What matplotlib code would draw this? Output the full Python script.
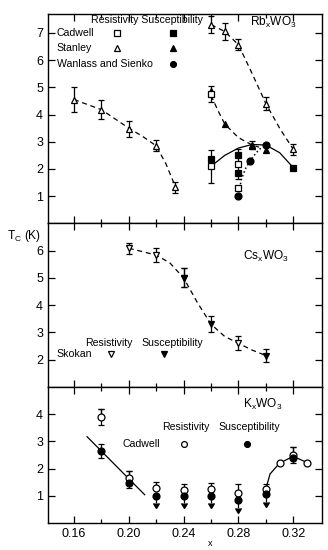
import numpy as np
import matplotlib
matplotlib.use('Agg')
import matplotlib.pyplot as plt

plt.rcParams['font.family'] = ['Liberation Sans', 'DejaVu Sans']

# ---- Rb_x WO3 ----
rb_st_res_x = [0.16, 0.18, 0.20, 0.22, 0.234, 0.26, 0.27, 0.28, 0.29, 0.30, 0.32]
rb_st_res_y = [4.55, 4.18, 3.48, 2.85, 1.33, 7.3, 7.05, 6.56, 2.87, 4.4, 2.72]
rb_st_res_e = [0.45, 0.35, 0.3, 0.2, 0.2, 0.3, 0.3, 0.2, 0.15, 0.25, 0.2]
rb_st_sus_x = [0.26, 0.27, 0.29, 0.30]
rb_st_sus_y = [4.85, 3.65, 2.85, 2.7]
rb_cad_res_x = [0.26, 0.26, 0.28, 0.28]
rb_cad_res_y = [2.1, 4.75, 2.2, 1.3]
rb_cad_res_e = [0.6, 0.3, 0.55, 0.0]
rb_cad_sus_x = [0.26, 0.28, 0.28, 0.32]
rb_cad_sus_y = [2.35, 2.5, 1.85, 2.05]
rb_ws_x = [0.28, 0.2885, 0.30]
rb_ws_y = [1.0, 2.3, 2.87]

rb_left_curve_x = [0.16, 0.18, 0.20, 0.21, 0.22, 0.227, 0.234]
rb_left_curve_y = [4.55, 4.18, 3.5, 3.2, 2.85, 2.2, 1.35]
rb_right_curve_x = [0.26, 0.27, 0.28, 0.29, 0.30, 0.31, 0.32]
rb_right_curve_y = [7.3, 7.05, 6.56, 5.5, 4.4, 3.5, 2.72]
rb_mid_curve_x = [0.26, 0.265, 0.27, 0.28, 0.29, 0.295]
rb_mid_curve_y = [4.7, 4.15, 3.65, 3.15, 2.88, 2.8]
rb_solid_x = [0.26, 0.27, 0.28, 0.29, 0.30, 0.31, 0.32]
rb_solid_y = [2.1, 2.5, 2.77, 2.9, 2.88, 2.6, 2.05]
rb_dot_x = [0.28, 0.282, 0.285, 0.2885, 0.293, 0.297]
rb_dot_y = [1.0, 1.6, 2.0, 2.3, 2.6, 2.8]

# ---- Cs_x WO3 ----
cs_res_x = [0.20, 0.22, 0.24, 0.28]
cs_res_y = [6.09, 5.84, 5.0, 2.6]
cs_res_e = [0.2, 0.25, 0.35, 0.25]
cs_sus_x = [0.24, 0.26, 0.30]
cs_sus_y = [5.0, 3.3, 2.15]
cs_sus_e = [0.35, 0.3, 0.25]
cs_curve_x = [0.20, 0.22, 0.23, 0.24, 0.25, 0.26, 0.27, 0.28, 0.29, 0.30]
cs_curve_y = [6.09, 5.84, 5.55, 5.0, 4.1, 3.3, 2.85, 2.6, 2.35, 2.15]

# ---- K_x WO3 ----
k_res_x = [0.18, 0.20, 0.22, 0.24, 0.26, 0.28, 0.30, 0.31, 0.32, 0.33]
k_res_y = [3.9, 1.65, 1.27, 1.2, 1.25, 1.1, 1.25, 2.2, 2.5, 2.22]
k_res_e = [0.3, 0.25, 0.22, 0.25, 0.22, 0.35, 0.2, 0.0, 0.3, 0.0]
k_sus_x = [0.18, 0.20, 0.22, 0.24, 0.26, 0.28, 0.30, 0.32]
k_sus_y = [2.64, 1.47, 1.0, 1.0, 1.0, 0.85, 1.05, 2.4]
k_sus_e = [0.25, 0.2, 0.0, 0.0, 0.0, 0.0, 0.0, 0.0]
k_limit_x = [0.22, 0.24, 0.26, 0.28, 0.30]
k_limit_y = [1.0, 1.0, 1.0, 0.85, 1.05]
k_line_x = [0.1696, 0.2116]
k_line_y = [3.17, 1.04]
k_curve_x = [0.30, 0.303, 0.31, 0.32, 0.33]
k_curve_y = [1.25, 1.8, 2.2, 2.45, 2.22]

fig, axes = plt.subplots(3, 1, figsize=(3.28, 5.5), dpi=100, sharex=True,
                         gridspec_kw={'height_ratios': [7.7, 6, 5]})
fig.subplots_adjust(left=0.146, right=0.982, top=0.975, bottom=0.049, hspace=0)

mk = dict(color='black', ms=5, mew=0.9, ls='none')
lk = dict(mk, ms=4.2)
eb = dict(fmt='none', ecolor='black', elinewidth=0.9, capsize=2, capthick=0.9)
fs = 7.6

# top panel
ax = axes[0]
ax.plot(rb_left_curve_x, rb_left_curve_y, 'k--', lw=0.9, dashes=(4, 3))
ax.plot(rb_right_curve_x, rb_right_curve_y, 'k--', lw=0.9, dashes=(4, 3))
ax.plot(rb_mid_curve_x, rb_mid_curve_y, 'k--', lw=0.9, dashes=(4, 3))
ax.plot(rb_solid_x, rb_solid_y, 'k-', lw=0.9)
ax.plot(rb_dot_x, rb_dot_y, 'k:', lw=1.1)
ax.errorbar(rb_st_res_x, rb_st_res_y, yerr=rb_st_res_e, **eb)
ax.errorbar(rb_cad_res_x, rb_cad_res_y, yerr=rb_cad_res_e, **eb)
ax.plot(rb_st_res_x, rb_st_res_y, marker='^', mfc='white', **mk)
ax.plot(rb_st_sus_x, rb_st_sus_y, marker='^', mfc='black', **mk)
ax.plot(rb_cad_res_x, rb_cad_res_y, marker='s', mfc='white', **mk)
ax.plot(rb_cad_sus_x, rb_cad_sus_y, marker='s', mfc='black', **mk)
ax.plot(rb_ws_x, rb_ws_y, marker='o', mfc='black', **mk)
ax.set_ylim(0, 7.7)
ax.set_yticks([1, 2, 3, 4, 5, 6, 7])
ax.text(0.2136, 7.48, 'Resistivity Susceptibility', fontsize=fs, ha='center', va='center')
ax.text(0.2885, 7.38, r'Rb$_\mathregular{x}$WO$_\mathregular{3}$', fontsize=fs + 1, ha='left', va='center')
for lab, y, m, hasf in [('Cadwell', 7.0, 's', True), ('Stanley', 6.45, '^', True),
                        ('Wanlass and Sienko', 5.86, 'o', False)]:
    ax.text(0.1476, y, lab, fontsize=fs, ha='left', va='center')
    if hasf:
        ax.plot([0.1914], [y], marker=m, mfc='white', **lk)
    ax.plot([0.2322], [y], marker=m, mfc='black', **lk)

# middle panel
ax = axes[1]
ax.plot(cs_curve_x, cs_curve_y, 'k--', lw=0.9, dashes=(4, 3))
ax.errorbar(cs_res_x, cs_res_y, yerr=cs_res_e, **eb)
ax.errorbar(cs_sus_x, cs_sus_y, yerr=cs_sus_e, **eb)
ax.plot(cs_res_x, cs_res_y, marker='v', mfc='white', **mk)
ax.plot(cs_sus_x, cs_sus_y, marker='v', mfc='black', **mk)
ax.set_ylim(1, 7)
ax.set_yticks([2, 3, 4, 5, 6])
ax.text(0.2834, 5.8, r'Cs$_\mathregular{x}$WO$_\mathregular{3}$', fontsize=fs + 1, ha='left', va='center')
ax.text(0.1852, 2.6, 'Resistivity', fontsize=fs, ha='center', va='center')
ax.text(0.2315, 2.6, 'Susceptibility', fontsize=fs, ha='center', va='center')
ax.text(0.1476, 2.19, 'Skokan', fontsize=fs, ha='left', va='center')
ax.plot([0.187], [2.2], marker='v', mfc='white', **lk)
ax.plot([0.2257], [2.2], marker='v', mfc='black', **lk)
fig.text(0.022, 1 - 236 / 550, r'T$_\mathregular{C}$ (K)', fontsize=fs + 1, ha='left', va='center')

# bottom panel
ax = axes[2]
ax.plot(k_line_x, k_line_y, 'k-', lw=0.9)
ax.plot(k_curve_x, k_curve_y, 'k-', lw=0.9)
ax.errorbar(k_res_x, k_res_y, yerr=[np.zeros(len(k_res_e)), k_res_e], **eb)
ax.errorbar(k_res_x[:2], k_res_y[:2], yerr=k_res_e[:2], **eb)
ax.errorbar(k_res_x[8:9], k_res_y[8:9], yerr=k_res_e[8:9], **eb)
ax.errorbar(k_sus_x, k_sus_y, yerr=k_sus_e, **eb)
ax.errorbar(k_limit_x, k_limit_y, yerr=0.28, uplims=True, fmt='none', color='black',
            ecolor='black', elinewidth=0.9, capsize=2.5)
ax.plot(k_res_x, k_res_y, marker='o', mfc='white', **mk)
ax.plot(k_sus_x, k_sus_y, marker='o', mfc='black', **mk)
ax.set_ylim(0, 5)
ax.set_yticks([1, 2, 3, 4])
ax.text(0.2834, 4.37, r'K$_\mathregular{x}$WO$_\mathregular{3}$', fontsize=fs + 1, ha='left', va='center')
ax.text(0.2414, 3.52, 'Resistivity', fontsize=fs, ha='center', va='center')
ax.text(0.2877, 3.52, 'Susceptibility', fontsize=fs, ha='center', va='center')
ax.text(0.2093, 2.89, 'Cadwell', fontsize=fs, ha='center', va='center')
ax.plot([0.2403], [2.89], marker='o', mfc='white', **lk)
ax.plot([0.2863], [2.89], marker='o', mfc='black', **lk)
ax.set_xlim(0.141, 0.341)
ax.set_xticks([0.16, 0.20, 0.24, 0.28, 0.32])
ax.set_xticklabels(['0.16', '0.20', '0.24', '0.28', '0.32'])
ax.set_xticks([0.18, 0.22, 0.26, 0.30], minor=True)
fig.text(210 / 328, 1 - 543 / 550, 'x', fontsize=fs - 1, ha='center', va='center')

for ax in axes:
    ax.tick_params(which='both', direction='in', top=True, right=True, labelsize=fs + 1.4,
                   width=0.9)
    ax.tick_params(which='major', length=5)
    ax.tick_params(which='minor', length=3)
    for s in ax.spines.values():
        s.set_linewidth(1.0)

plt.savefig('out.png', dpi=100)
